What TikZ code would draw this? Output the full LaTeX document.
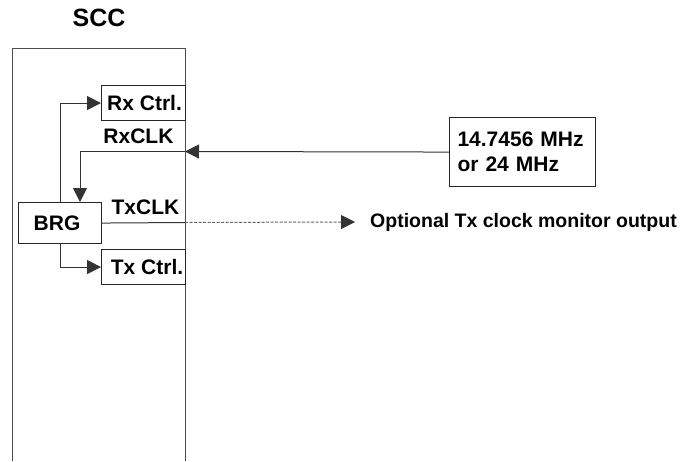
\documentclass[tikz,border=0pt]{standalone}
\usepackage{fontspec}
\setmainfont{Liberation Sans}
\usetikzlibrary{arrows.meta}
\begin{document}
\begin{tikzpicture}[x=1pt,y=-1pt,
  lbl/.style={font=\fontsize{21}{25}\selectfont\bfseries, inner sep=0pt},
  box/.style={draw=black!85, line width=1.1pt, inner sep=0pt, anchor=north west, lbl},
  conn/.style={draw=black!80, line width=1pt},
  tip/.style={-{Triangle[length=14pt,width=14pt]}},
  dashline/.style={draw=black!60, line width=1pt, dash pattern=on 3pt off 1.5pt}]
\useasboundingbox (0,0) rectangle (680,461);
% SCC outline (open at the bottom)
\draw[draw=black!70, line width=1pt] (12,461) -- (12,48) -- (185,48) -- (185,461);
\node[lbl, font=\fontsize{25}{28}\selectfont\bfseries] (scc) at (99,18) {SCC};
% boxes
\node[box, minimum width=84pt, minimum height=35pt] (rx) at (101,85) {\hspace*{2pt}Rx Ctrl.};
\node[box, minimum width=83pt, minimum height=41pt] (brg) at (18,202) {BRG\hspace*{6pt}};
\node[box, minimum width=84pt, minimum height=35pt] (tx) at (101,249) {\hspace*{7pt}Tx Ctrl.};
\node[box, minimum width=143pt, minimum height=69pt, align=left, text width=130pt, inner xsep=8pt] (clk) at (449,117) {14.7456 MHz\\or 24 MHz};
% labels
\node[lbl] (rxclk) at (138.5,136) {RxCLK};
\node[lbl] (txclk) at (145.5,207) {TxCLK};
\node[lbl, font=\fontsize{19.5}{23}\selectfont\bfseries, anchor=west] (opt) at (370,222) {Optional Tx clock monitor output};
% connector points
\coordinate (rxin) at (185,151.5);
\coordinate (brgrx) at (80,202);
\coordinate (txout) at (185,222.5);
% connectors
\draw[conn,tip] (clk.west) -- (rxin);
\draw[conn,tip] (rxin) -| (brgrx);
\draw[conn,tip] (brg.north) |- (rx.west);
\draw[conn,tip] (brg.south) |- (tx.west);
\draw[conn] (brg.east) -- (txout);
\draw[dashline] (txout) -- ([xshift=-27pt]opt.west);
\draw[conn,tip] ([xshift=-29pt]opt.west) -- ([xshift=-15pt]opt.west);
\end{tikzpicture}
\end{document}
